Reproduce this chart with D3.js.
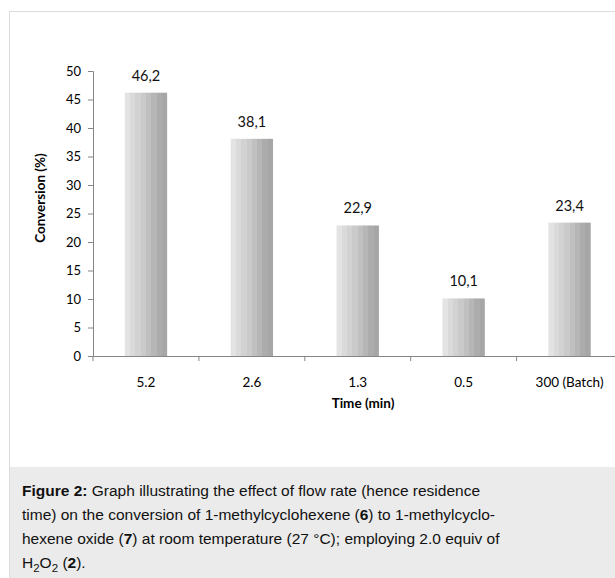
<!DOCTYPE html>
<html>
<head>
<meta charset="utf-8">
<script src="https://cdn.jsdelivr.net/npm/d3@7"></script>
<style>
  html, body { margin: 0; padding: 0; background: #fff; }
  svg { display: block; }
</style>
</head>
<body>
<div id="chart"></div>
<script>
// Residence times (x categories) and measured conversions
const categories = ["5.2", "2.6", "1.3", "0.5", "300 (Batch)"];
const conversion = [46.2, 38.1, 22.9, 10.1, 23.4];
const valueLabels = ["46,2", "38,1", "22,9", "10,1", "23,4"];
const yTicks = [0, 5, 10, 15, 20, 25, 30, 35, 40, 45, 50];

const W = 615, H = 578;
const svg = d3.select("#chart").append("svg").attr("width", W).attr("height", H);

// Outer frame and caption panel
svg.append("rect").attr("x", 9.5).attr("y", 11.5).attr("width", W).attr("height", H)
  .attr("fill", "#fff").attr("stroke", "#dcdcdc");
svg.append("rect").attr("x", 10).attr("y", 467).attr("width", W).attr("height", H - 467)
  .attr("fill", "#ebebeb");

// Stepped grey shading across each bar
const defs = svg.append("defs");
const grad = defs.append("linearGradient").attr("id", "barShade")
  .attr("x1", "0%").attr("x2", "100%").attr("y1", "0%").attr("y2", "0%");
const shades = ["#e3e3e3", "#dadada", "#d2d2d2", "#cacaca", "#c0c0c0", "#b6b6b6", "#acacac", "#a6a6a6"];
shades.forEach((c, i) => {
  grad.append("stop").attr("offset", (i / shades.length * 100) + "%").attr("stop-color", c);
  grad.append("stop").attr("offset", ((i + 1) / shades.length * 100) + "%").attr("stop-color", c);
});

const x0 = 93, x1 = 622.5, yBase = 356, yTop = 71;
const x = d3.scaleBand().domain(categories).range([x0, x1]).paddingInner(0.6).paddingOuter(0.3);
const y = d3.scaleLinear().domain([0, 50]).range([yBase, yTop]);

const font = "Lato, 'Open Sans', sans-serif";

// Y axis
const yAxis = svg.append("g").attr("transform", `translate(${x0},0)`)
  .call(d3.axisLeft(y).tickValues(yTicks).tickSize(5).tickSizeOuter(5).tickPadding(7));
yAxis.select(".domain").attr("stroke", "#868686");
yAxis.selectAll(".tick line").attr("stroke", "#868686");
yAxis.selectAll("text").attr("font-family", font).attr("font-size", 13).attr("fill", "#000");

// X axis with boundary ticks between categories
const xg = svg.append("g").attr("transform", `translate(0,${yBase})`);
xg.append("line").attr("x1", x0).attr("x2", x1).attr("y1", 0.5).attr("y2", 0.5).attr("stroke", "#868686");
const step = (x1 - x0) / categories.length;
d3.range(categories.length + 1).forEach(i => {
  xg.append("line").attr("x1", x0 + i * step).attr("x2", x0 + i * step)
    .attr("y1", 0).attr("y2", 5).attr("stroke", "#868686");
});
xg.selectAll("text.cat").data(categories).join("text").attr("class", "cat")
  .attr("x", d => x(d) + x.bandwidth() / 2).attr("y", 31)
  .attr("text-anchor", "middle").attr("font-family", font).attr("font-size", 13.5)
  .text(d => d);

// Bars
svg.selectAll("rect.bar").data(conversion).join("rect").attr("class", "bar")
  .attr("x", (d, i) => x(categories[i])).attr("width", x.bandwidth())
  .attr("y", d => y(d)).attr("height", d => yBase - y(d))
  .attr("fill", "url(#barShade)");

// Value labels
svg.selectAll("text.val").data(conversion).join("text").attr("class", "val")
  .attr("x", (d, i) => x(categories[i]) + x.bandwidth() / 2)
  .attr("y", d => y(d) - 12)
  .attr("text-anchor", "middle").attr("font-family", font).attr("font-size", 14.5)
  .attr("fill", "#111")
  .text((d, i) => valueLabels[i]);

// Axis titles
svg.append("text").attr("transform", `translate(45,198) rotate(-90)`)
  .attr("text-anchor", "middle").attr("font-family", font).attr("font-weight", "bold")
  .attr("font-size", 13.5).text("Conversion (%)");
svg.append("text").attr("x", 363).attr("y", 408)
  .attr("text-anchor", "middle").attr("font-family", font).attr("font-weight", "bold")
  .attr("font-size", 13.5).text("Time (min)");

// Caption
const capFont = "'Liberation Sans', Arial, sans-serif";
const cap = svg.append("text").attr("font-family", capFont)
  .attr("font-size", 15.5).attr("fill", "#111");
const lines = [
  [["Figure 2:", true], [" Graph illustrating the effect of flow rate (hence residence", false]],
  [["time) on the conversion of 1-methylcyclohexene (", false], ["6", true], [") to 1-methylcyclo-", false]],
  [["hexene oxide (", false], ["7", true], [") at room temperature (27 °C); employing 2.0 equiv of", false]]
];
lines.forEach((parts, i) => {
  const t = cap.append("tspan").attr("x", 22).attr("y", 496 + i * 24);
  parts.forEach(([s, b], j) => {
    const sp = j === 0 ? t : cap.append("tspan");
    sp.text(s).attr("font-weight", b ? "bold" : null);
  });
});
const last = svg.append("text").attr("x", 22).attr("y", 568)
  .attr("font-family", capFont).attr("font-size", 15.5).attr("fill", "#111");
last.append("tspan").text("H");
last.append("tspan").text("2").attr("font-size", 11.5).attr("dy", 4);
last.append("tspan").text("O").attr("dy", -4);
last.append("tspan").text("2").attr("font-size", 11.5).attr("dy", 4);
last.append("tspan").text(" (").attr("dy", -4);
last.append("tspan").text("2").attr("font-weight", "bold");
last.append("tspan").text(").");
</script>
</body>
</html>
